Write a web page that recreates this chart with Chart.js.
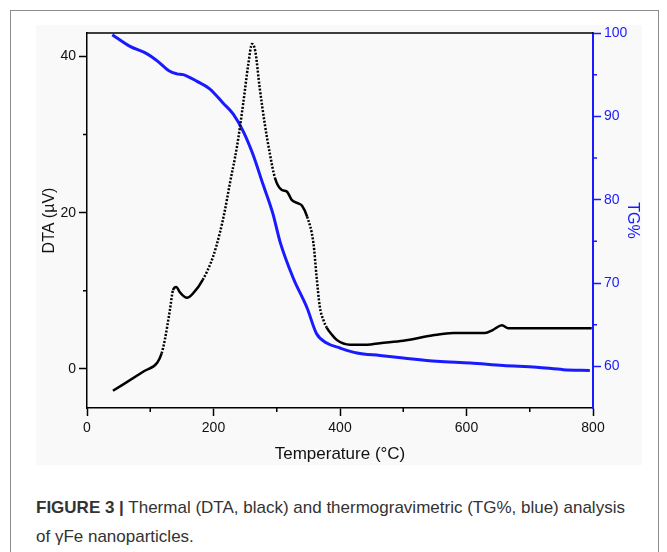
<!DOCTYPE html>
<html lang="en">
<head>
  <meta charset="utf-8">
  <title>Figure 3 - DTA / TG</title>
  <script src="https://cdn.jsdelivr.net/npm/chart.js@4.4.0/dist/chart.umd.min.js"></script>
  <style>
    * { margin: 0; padding: 0; }
    body { width: 667px; height: 552px; background: #fff; position: relative; overflow: hidden; font-family: "Liberation Sans", Arial, sans-serif; }
    #frame { position: absolute; left: 10px; top: 10px; width: 647px; height: 580px; border: 1px solid #8c8c8c; }
    #panel { position: absolute; left: 36px; top: 25px; width: 606px; height: 440px; background: #f9f9f9; }
    #chart-box { position: absolute; left: 0; top: 0; width: 667px; height: 470px; }
    #caption { position: absolute; left: 36px; top: 493px; width: 606px; font-size: 17px; line-height: 29px; color: #333; }
    #caption b { font-weight: bold; }
  </style>
</head>
<body>
  <div id="frame"></div>
  <div id="panel"></div>
  <div id="chart-box"><canvas id="tgChart"></canvas></div>
  <div id="caption"><b>FIGURE 3 |</b> Thermal (DTA, black) and thermogravimetric (TG%, blue) analysis of &gamma;Fe nanoparticles.</div>

  <script>
    // DTA curve (black), temperature in °C and signal in µV
    const dtaTemp = [41, 90, 111, 118, 123, 131, 136, 141, 147, 158, 168, 183, 199, 210, 218, 226, 237, 247, 255, 261, 266,
                     273, 281, 289, 297, 308, 316, 324, 334, 340, 348, 358, 363, 368, 374, 379, 387, 395, 416, 443, 463, 500, 547,
                     579, 629, 642, 656, 666, 798];
    const dtaValues = [-2.8, -0.3, 0.8, 2.0, 3.7, 7.5, 10.1, 10.5, 9.8, 9.1, 9.7, 11.4, 14.3, 17.4, 20.3, 23.8, 28.4, 34.0, 39.0, 41.6, 40.7,
                       36.0, 31.4, 27.6, 24.5, 22.9, 22.7, 21.6, 21.2, 20.9, 19.5, 16.1, 11.8, 8.0, 6.2, 5.3, 4.4, 3.7, 3.1, 3.1, 3.3, 3.6, 4.3,
                       4.6, 4.6, 5.0, 5.6, 5.2, 5.2];

    // TG curve (blue), mass %
    const tgTemp = [40, 68, 95, 112, 131, 142, 152, 174, 194, 215, 231, 247, 262, 278, 294, 305, 326, 348, 363, 379,
                    400, 427, 463, 500, 553, 606, 658, 711, 753, 795];
    const tgValues = [99.8, 98.4, 97.5, 96.6, 95.4, 95.1, 95.0, 94.2, 93.3, 91.6, 90.3, 88.2, 85.5, 81.9, 78.3, 75.0, 70.6, 67.0, 63.9, 62.8,
                      62.2, 61.6, 61.3, 61.0, 60.6, 60.4, 60.1, 59.9, 59.6, 59.5];

    // tick positions (major ones carry labels, minor ones are short marks)
    const tempTicks = [0, 200, 400, 600, 800];
    const tempMinor = [100, 300, 500, 700];
    const dtaTicks = [0, 20, 40];
    const dtaMinor = [10, 30];
    const tgTicks = [60, 70, 80, 90, 100];
    const tgMinor = [65, 75, 85, 95];

    const blue = '#1a1aff';
    const tickFont = { family: '"Liberation Sans", Arial, sans-serif', size: 14 };
    const titleFont = { family: '"Liberation Sans", Arial, sans-serif', size: 17 };

    const toPoints = (xs, ys) => xs.map((x, i) => ({ x: x, y: ys[i] }));
    const setTicks = list => scale => { scale.ticks = list.map(v => ({ value: v })); };

    // steep parts of the DTA trace look dotted in the original (sparse samples)
    const steepDash = c => {
      const dx = Math.abs(c.p1.x - c.p0.x), dy = Math.abs(c.p1.y - c.p0.y);
      return dy > dx * 2.2 ? [2, 1.6] : undefined;
    };

    // top frame line + short minor ticks
    const frameLines = {
      id: 'frameLines',
      afterDraw(chart) {
        const a = chart.chartArea, c = chart.ctx, s = chart.scales;
        c.save();
        c.lineWidth = 1.5;
        c.strokeStyle = '#000';
        c.beginPath();
        c.moveTo(a.left, a.top);
        c.lineTo(a.right, a.top);
        tempMinor.forEach(v => { const x = s.x.getPixelForValue(v); c.moveTo(x, a.bottom); c.lineTo(x, a.bottom + 4); });
        dtaMinor.forEach(v => { const y = s.y.getPixelForValue(v); c.moveTo(a.left, y); c.lineTo(a.left - 4, y); });
        c.stroke();
        c.strokeStyle = blue;
        c.beginPath();
        tgMinor.forEach(v => { const y = s.y1.getPixelForValue(v); c.moveTo(a.right, y); c.lineTo(a.right + 4, y); });
        c.stroke();
        c.restore();
      }
    };

    const ctx = document.getElementById('tgChart').getContext('2d');
    new Chart(ctx, {
      type: 'line',
      data: {
        datasets: [
          {
            label: 'DTA',
            data: toPoints(dtaTemp, dtaValues),
            borderColor: '#000',
            borderWidth: 2.5,
            pointRadius: 0,
            cubicInterpolationMode: 'monotone',
            segment: { borderDash: steepDash },
            yAxisID: 'y'
          },
          {
            label: 'TG%',
            data: toPoints(tgTemp, tgValues),
            borderColor: blue,
            borderWidth: 3,
            pointRadius: 0,
            cubicInterpolationMode: 'monotone',
            yAxisID: 'y1'
          }
        ]
      },
      options: {
        responsive: true,
        maintainAspectRatio: false,
        animation: false,
        layout: { padding: { left: 36, right: 25, top: 33, bottom: 2 } },
        plugins: { legend: { display: false }, tooltip: { enabled: false } },
        scales: {
          x: {
            type: 'linear',
            min: 0,
            max: 800,
            afterBuildTicks: setTicks(tempTicks),
            afterFit: s => { s.height = 60; },
            border: { color: '#000', width: 1.5 },
            grid: { drawOnChartArea: false, tickLength: 8, tickColor: '#000', tickWidth: 1.5 },
            ticks: { color: '#111', font: tickFont, padding: 4, maxRotation: 0 },
            title: { display: true, text: 'Temperature (°C)', color: '#111', font: titleFont, padding: { top: 4, bottom: 3 } }
          },
          y: {
            position: 'left',
            min: -5,
            max: 43,
            afterBuildTicks: setTicks(dtaTicks),
            afterFit: s => { s.width = 51; },
            border: { color: '#000', width: 1.5 },
            grid: { drawOnChartArea: false, tickLength: 8, tickColor: '#000', tickWidth: 1.5 },
            ticks: { color: '#111', font: tickFont, padding: 3 },
            title: { display: true, text: 'DTA (µV)', color: '#111', font: { family: titleFont.family, size: 16 }, padding: { bottom: 0 } }
          },
          y1: {
            position: 'right',
            min: 55,
            max: 100,
            afterBuildTicks: setTicks(tgTicks),
            afterFit: s => { s.width = 49; },
            border: { color: blue, width: 2 },
            grid: { drawOnChartArea: false, tickLength: 8, tickColor: blue, tickWidth: 1.5 },
            ticks: { color: blue, font: tickFont, padding: 3 },
            title: { display: true, text: 'TG%', color: blue, font: { family: titleFont.family, size: 16 }, padding: { top: 0 } }
          }
        }
      },
      plugins: [frameLines]
    });
  </script>
</body>
</html>
